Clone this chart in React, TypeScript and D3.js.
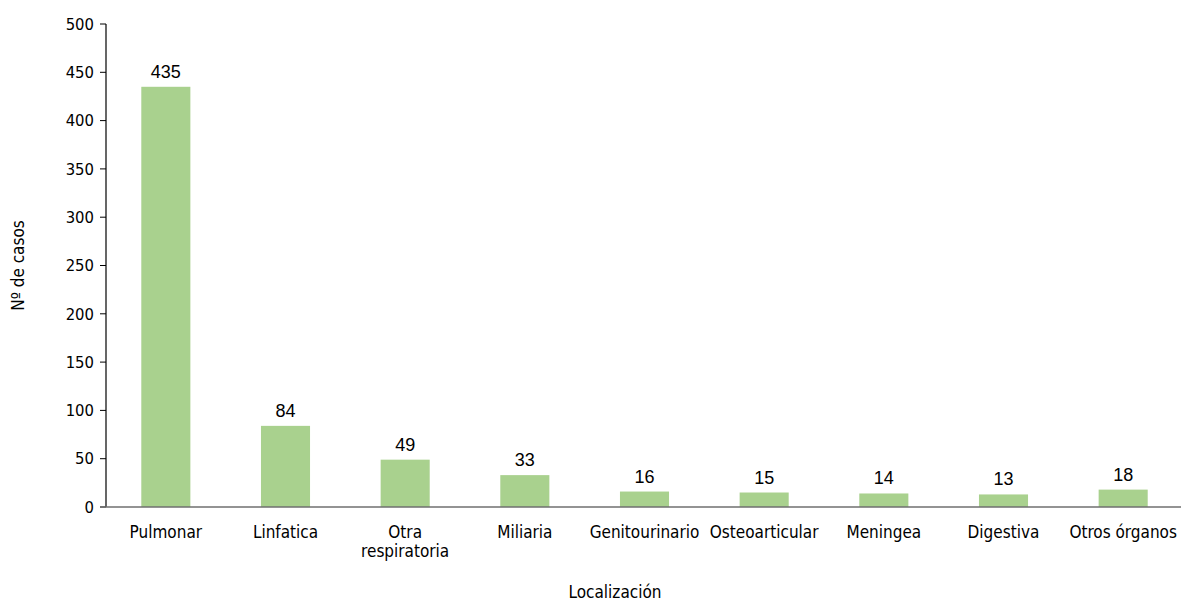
import React from "react";
import * as d3 from "d3";

const categories = ["Pulmonar", "Linfatica", "Otra respiratoria", "Miliaria", "Genitourinario", "Osteoarticular", "Meningea", "Digestiva", "Otros órganos"];
const values = [435, 84, 49, 33, 16, 15, 14, 13, 18];
const yTicks = [0, 50, 100, 150, 200, 250, 300, 350, 400, 450, 500];

const W = 1181, H = 601;
const M = { left: 106, right: 0, top: 24, bottom: 94 };
const FONT = "'DejaVu Sans Condensed', 'DejaVu Sans', sans-serif";

export default function App() {
  const x = d3.scaleBand<string>().domain(categories).range([M.left, 1183]).paddingInner(0.59).paddingOuter(0.295);
  const y = d3.scaleLinear().domain([0, 500]).range([H - M.bottom, M.top]);
  const y0 = y(0);
  return (
    <svg width={W} height={H} style={{ position: "absolute", left: 0, top: 0, background: "#fff" }}>
      {values.map((v, i) => (
        <rect key={i} x={x(categories[i])} y={y(v)} width={x.bandwidth()} height={y0 - y(v)} fill="#a9d18e" />
      ))}
      {values.map((v, i) => (
        <text key={"l" + i} x={x(categories[i])! + x.bandwidth() / 2} y={y(v) - 9} textAnchor="middle" fontFamily="'Liberation Sans', Arial, sans-serif" fontSize={18} fill="#000">{v}</text>
      ))}
      <line x1={M.left} x2={M.left} y1={y(500)} y2={y0} stroke="#000" strokeWidth={1.2} />
      {yTicks.map((t) => (
        <g key={t}>
          <line x1={M.left - 6} x2={M.left} y1={y(t)} y2={y(t)} stroke="#000" strokeWidth={1} />
          <text x={M.left - 12} y={y(t)} dy="0.35em" textAnchor="end" fontFamily={FONT} fontSize={16.5} fill="#000">{t}</text>
        </g>
      ))}
      <line x1={M.left - 6} x2={1181} y1={y0} y2={y0} stroke="#6f6f6f" strokeWidth={1.6} />
      {categories.map((c, i) => {
        const lines = c === "Otra respiratoria" ? ["Otra", "respiratoria"] : [c];
        return (
          <text key={"c" + i} x={x(c)! + x.bandwidth() / 2} y={538} textAnchor="middle" fontFamily={FONT} fontSize={17} fill="#000">
            {lines.map((ln, j) => (
              <tspan key={j} x={x(c)! + x.bandwidth() / 2} dy={j === 0 ? 0 : 19}>{ln}</tspan>
            ))}
          </text>
        );
      })}
      <text x={615} y={598} textAnchor="middle" fontFamily={FONT} fontSize={17} fill="#000">Localización</text>
      <text transform={`translate(24, ${(y(500) + y0) / 2}) rotate(-90)`} textAnchor="middle" fontFamily={FONT} fontSize={17} fill="#000">Nº de casos</text>
    </svg>
  );
}
